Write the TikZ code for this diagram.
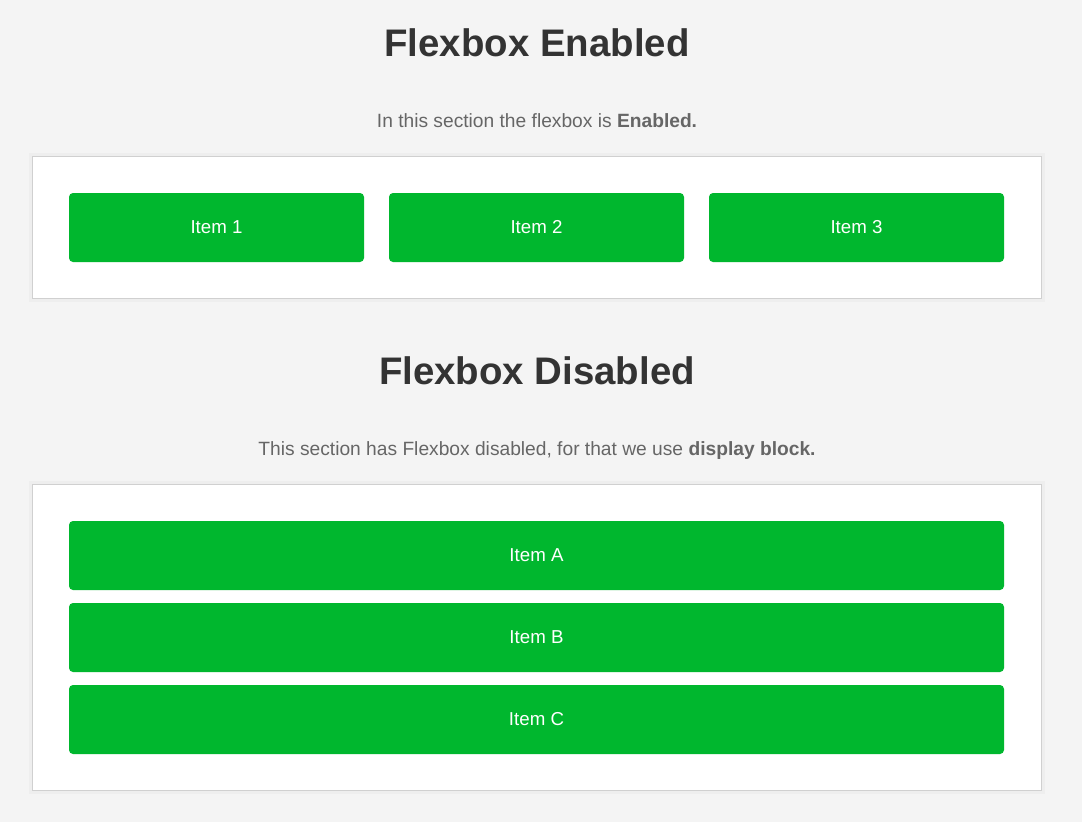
\documentclass[tikz,border=0pt]{standalone}
\usepackage{fontspec}
\setmainfont{Liberation Sans}
\definecolor{bg}{HTML}{F4F4F4}
\definecolor{itemgreen}{HTML}{00B72E}
\definecolor{titlecol}{HTML}{333333}
\definecolor{subcol}{HTML}{666666}
\definecolor{panelborder}{HTML}{D0D0D0}
\definecolor{shadowcol}{HTML}{EEEEEE}
\tikzset{
  title/.style={text=titlecol, font=\fontsize{38.4}{44}\selectfont\bfseries, inner sep=0pt, anchor=base},
  subtitle/.style={text=subcol, font=\fontsize{19.2}{23}\selectfont, inner sep=0pt, anchor=base},
  panel/.style={draw=panelborder, fill=white, line width=1pt},
  panelshadow/.style={draw=shadowcol, line width=4pt},
  itembox/.style={fill=itemgreen, rounded corners=4pt},
  itemtext/.style={text=white, font=\fontsize{18.7}{22}\selectfont, inner sep=0pt}
}
\begin{document}
\begin{tikzpicture}[x=1pt,y=-1pt]
\useasboundingbox (0,0) rectangle (1082,822);
\fill[bg] (0,0) rectangle (1082,822);
% titles
\node[title] (t1) at (537,56) {Flexbox Enabled};
\node[subtitle] (s1) at (537,127) {In this section the flexbox is \textbf{Enabled.}};
\node[title] (t2) at (537,384) {Flexbox Disabled};
\node[subtitle] (s2) at (537,455.5) {This section has Flexbox disabled, for that we use \textbf{display block.}};
% panel 1
\draw[panelshadow] (31,155) rectangle (1043,300);
\draw[panel] (32.5,156.5) rectangle (1041.5,298.5);
\fill[itembox] (69,193) rectangle (364,262);
\fill[itembox] (389,193) rectangle (684,262);
\fill[itembox] (709,193) rectangle (1004,262);
\node[itemtext] (i1) at (216.5,227.5) {Item 1};
\node[itemtext] (i2) at (536.5,227.5) {Item 2};
\node[itemtext] (i3) at (856.5,227.5) {Item 3};
% panel 2
\draw[panelshadow] (31,483) rectangle (1043,792);
\draw[panel] (32.5,484.5) rectangle (1041.5,790.5);
\fill[itembox] (69,521) rectangle (1004,590);
\fill[itembox] (69,603) rectangle (1004,672);
\fill[itembox] (69,685) rectangle (1004,754);
\node[itemtext] (ia) at (536.5,555.5) {Item A};
\node[itemtext] (ib) at (536.5,637.5) {Item B};
\node[itemtext] (ic) at (536.5,719.5) {Item C};
\end{tikzpicture}
\end{document}
